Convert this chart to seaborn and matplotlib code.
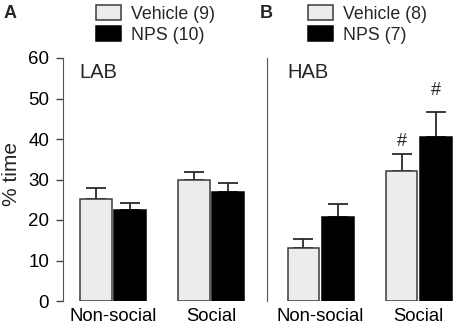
import matplotlib
matplotlib.use("Agg")
import matplotlib.pyplot as plt
import seaborn as sns
import pandas as pd
import numpy as np
from matplotlib.patches import Patch

sns.set_style("ticks")
plt.rcParams['font.family'] = ['Liberation Sans', 'DejaVu Sans']

# ---- data ----
conditions = ["Non-social", "Social"]
treatments = ["Vehicle", "NPS"]
lab_vehicle = [25.2, 29.9]
lab_vehicle_sem = [2.6, 2.0]
lab_nps = [22.5, 27.0]
lab_nps_sem = [1.7, 2.2]
hab_vehicle = [13.0, 32.2]
hab_vehicle_sem = [2.4, 4.2]
hab_nps = [20.7, 40.4]
hab_nps_sem = [3.3, 6.3]
lab_n = [9, 10]
hab_n = [8, 7]
yticks = [0, 10, 20, 30, 40, 50, 60]
sig_y = [39.5, 51.9]

colors = {"Vehicle": "#ececec", "NPS": "#000000"}
edgec = {"Vehicle": "#3a3a3a", "NPS": "#000000"}

fig = plt.figure(figsize=(4.54, 3.31), dpi=100)
W, H = 454, 331
def axrect(x0, x1, ytop, ybot):
    return [x0 / W, 1 - ybot / H, (x1 - x0) / W, (ybot - ytop) / H]

ax1 = fig.add_axes(axrect(63, 266.7, 58, 301))
ax2 = fig.add_axes(axrect(266.7, 454, 58, 301))

def panel(ax, veh, veh_sem, nps, nps_sem):
    df = pd.DataFrame({
        "cond": conditions * 2,
        "treat": ["Vehicle"] * 2 + ["NPS"] * 2,
        "val": list(veh) + list(nps),
        "sem": list(veh_sem) + list(nps_sem),
    })
    sns.barplot(data=df, x="cond", y="val", hue="treat", order=conditions,
                hue_order=treatments, palette=colors, width=0.7, gap=0.08,
                errorbar=None, ax=ax, legend=False, linewidth=1.1)
    for cont, t in zip(ax.containers, treatments):
        sub = df[df.treat == t]
        for patch in cont:
            patch.set_edgecolor(edgec[t])
            patch.set_zorder(3)
        xs = [p.get_x() + p.get_width() / 2 for p in cont]
        ys = sub["val"].values
        es = sub["sem"].values
        ax.errorbar(xs, ys, yerr=[np.zeros_like(es), es], fmt="none",
                    ecolor="#2a2a2a", elinewidth=1.3, capsize=7,
                    capthick=1.3, zorder=2)
    ax.set_ylim(0, 60)
    ax.set_xlabel("")
    ax.set_ylabel("")
    for s in ["top", "right", "bottom"]:
        ax.spines[s].set_visible(False)
    ax.tick_params(axis="x", length=0, pad=5, labelsize=13.3, colors="black")
    ax.set_facecolor("none")

panel(ax1, lab_vehicle, lab_vehicle_sem, lab_nps, lab_nps_sem)
panel(ax2, hab_vehicle, hab_vehicle_sem, hab_nps, hab_nps_sem)

ax1.set_xlim(-0.51, 1.57)
ax2.set_xlim(-0.55, 1.36)

ax1.set_yticks(yticks)
ax1.tick_params(axis="y", length=5, width=1, pad=5, labelsize=13.5,
                color="#444444", labelcolor="black")
ax1.spines["left"].set_color("#555555")
ax1.set_ylabel("% time", fontsize=15)
ax1.yaxis.set_label_coords((21 - 63) / 203.7, (301 - 174) / 243)

ax2.set_yticks([])
ax2.spines["left"].set_color("#555555")

ax1.text((79 - 63) / 203.7, (301 - 73) / 243, "LAB", transform=ax1.transAxes,
         fontsize=14.5, va="center", ha="left")
ax2.text((287 - 266.7) / 187.3, (301 - 73) / 243, "HAB", transform=ax2.transAxes,
         fontsize=14.5, va="center", ha="left")

# significance marks (#) above HAB social bars
for cont, yv in zip(ax2.containers, sig_y):
    p = cont[1]
    ax2.text(p.get_x() + p.get_width() / 2, yv, "#", ha="center", va="center", fontsize=13)

# panel letters
fig.text(10.5 / W, 1 - 13 / H, "A", fontsize=13, fontweight="bold", ha="center", va="center")
fig.text(266 / W, 1 - 13 / H, "B", fontsize=13, fontweight="bold", ha="center", va="center")

# legends
def legend(ns, x0):
    handles = [Patch(facecolor=colors[t], edgecolor=edgec[t], linewidth=1.1) for t in treatments]
    labels = [f"{t} ({n})" for t, n in zip(treatments, ns)]
    fig.legend(handles, labels, loc="upper left", bbox_to_anchor=(x0 / W, 1 - 5 / H),
               frameon=False, fontsize=12.8, handlelength=1.4, handleheight=0.9,
               handletextpad=0.55, labelspacing=0.2, borderpad=0, borderaxespad=0)

legend(lab_n, 96)
legend(hab_n, 308)

fig.savefig("out.png", dpi=100)
